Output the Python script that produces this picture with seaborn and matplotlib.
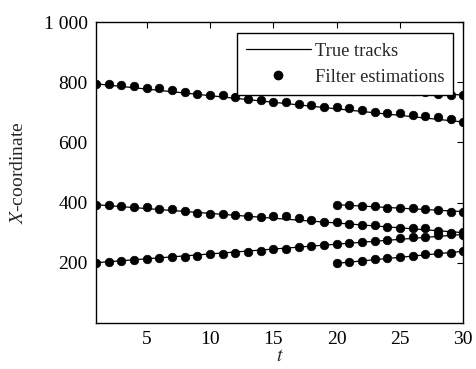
import numpy as np
import pandas as pd
import matplotlib
matplotlib.use("Agg")
import matplotlib.pyplot as plt
from matplotlib.lines import Line2D
import seaborn as sns

# Filter estimations of the X-coordinate for each target, by time step
t_long = list(range(1, 31))
t_late = list(range(20, 31))

est_a = [795, 795, 792, 786, 782, 782, 776, 769, 762, 759, 759, 752, 746, 742, 736,
         735, 728, 723, 718, 718, 713, 709, 702, 697, 697, 692, 688, 686, 679, 667]
est_b = [393, 393, 389, 385, 385, 379, 378, 371, 366, 363, 361, 359, 355, 352, 355,
         354, 350, 343, 336, 334, 330, 326, 324, 319, 317, 316, 314, 307, 300, 302]
est_c = [200, 203, 205, 210, 214, 215, 218, 220, 224, 228, 229, 232, 235, 240, 246,
         246, 253, 255, 260, 263, 265, 268, 271, 276, 283, 285, 287, 291, 294, 293]
est_d = [795, 791, 788, 784, 780, 776, 772, 768, 761, 757, 758]
est_e = [393, 392, 388, 388, 382, 382, 381, 377, 376, 370, 370]
est_f = [198, 201, 207, 212, 216, 220, 223, 229, 232, 234, 240]

# True tracks: start and end of each constant-velocity target
true_ids = ["A", "B", "C", "D", "E", "F"]
true_t0 = [1, 1, 1, 20, 20, 20]
true_t1 = [30, 30, 30, 30, 30, 30]
true_x0 = [795, 393, 200, 795, 393, 198]
true_x1 = [668, 300, 294, 757, 370, 238]

yticks = [200, 400, 600, 800, 1000]
ytick_labels = ["200", "400", "600", "800", "1 000"]
xticks = [5, 10, 15, 20, 25, 30]

est = pd.concat([
    pd.DataFrame({"t": t_long, "x": est_a, "track": "A"}),
    pd.DataFrame({"t": t_long, "x": est_b, "track": "B"}),
    pd.DataFrame({"t": t_long, "x": est_c, "track": "C"}),
    pd.DataFrame({"t": t_late, "x": est_d, "track": "D"}),
    pd.DataFrame({"t": t_late, "x": est_e, "track": "E"}),
    pd.DataFrame({"t": t_late, "x": est_f, "track": "F"}),
], ignore_index=True)

truth = pd.DataFrame({
    "t": true_t0 + true_t1,
    "x": true_x0 + true_x1,
    "track": true_ids + true_ids,
})

sns.set_theme(style="white")
plt.rcParams["font.family"] = ["Liberation Serif", "DejaVu Serif"]
plt.rcParams["mathtext.fontset"] = "stix"

fig = plt.figure(figsize=(4.77, 3.69), dpi=100)
ax = fig.add_axes([0.201, 0.125, 0.770, 0.815])

sns.lineplot(data=truth, x="t", y="x", units="track", estimator=None,
             color="black", linewidth=0.9, ax=ax, legend=False, sort=True)
sns.scatterplot(data=est, x="t", y="x", color="black", s=38, marker="o",
                edgecolor="black", linewidth=0.5, ax=ax, legend=False, zorder=3)

ax.set_xlim(1, 30)
ax.set_ylim(0, 1000)
ax.set_xticks(xticks)
ax.set_xticklabels([str(v) for v in xticks])
ax.set_yticks(yticks)
ax.set_yticklabels(ytick_labels)
ax.tick_params(direction="in", length=4, width=0.8, top=True, right=True,
               labelsize=14, pad=6, colors="black")
for s in ax.spines.values():
    s.set_color("black")
    s.set_linewidth(1.0)

ax.set_xlabel("$t$", fontsize=14, labelpad=0)
ax.set_ylabel("$X$-coordinate", fontsize=14, labelpad=12)

handles = [
    Line2D([], [], color="black", linewidth=0.9, label="True tracks"),
    Line2D([], [], color="black", linestyle="none", marker="o", markersize=6,
           label="Filter estimations"),
]
leg = ax.legend(handles=handles, loc="upper right", bbox_to_anchor=(0.973, 0.963),
                fontsize=13.3, frameon=True, fancybox=False, shadow=False,
                framealpha=1, edgecolor="black", handlelength=3.5,
                handletextpad=0.2, borderpad=0.5, labelspacing=0.5,
                borderaxespad=0, numpoints=1)
leg.get_frame().set_linewidth(1.0)
leg.set_zorder(5)

fig.savefig("out.png", dpi=100)
